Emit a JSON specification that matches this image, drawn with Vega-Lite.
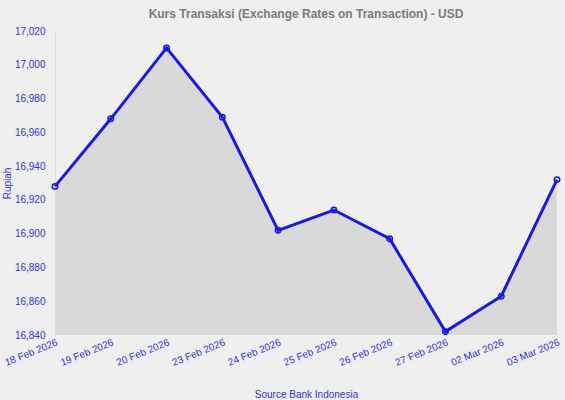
{
  "$schema": "https://vega.github.io/schema/vega-lite/v6.json",
  "width": 502,
  "height": 304,
  "autosize": {"type": "none"},
  "padding": {"left": 55, "top": 31, "right": 8, "bottom": 65},
  "background": "#efefef",
  "title": {
    "text": "Kurs Transaksi (Exchange Rates on Transaction) - USD",
    "font": "Liberation Sans",
    "fontSize": 12,
    "fontWeight": "bold",
    "color": "#7a7a7a",
    "anchor": "middle",
    "offset": 5
  },
  "config": {
    "view": {"stroke": null},
    "axis": {"labelFont": "Liberation Sans", "titleFont": "Liberation Sans"}
  },
  "data": {
    "values": [
      {"date": "18 Feb 2026", "rate": 16928},
      {"date": "19 Feb 2026", "rate": 16968},
      {"date": "20 Feb 2026", "rate": 17010},
      {"date": "23 Feb 2026", "rate": 16969},
      {"date": "24 Feb 2026", "rate": 16902},
      {"date": "25 Feb 2026", "rate": 16914},
      {"date": "26 Feb 2026", "rate": 16897},
      {"date": "27 Feb 2026", "rate": 16842},
      {"date": "02 Mar 2026", "rate": 16863},
      {"date": "03 Mar 2026", "rate": 16932}
    ]
  },
  "encoding": {
    "x": {
      "field": "date",
      "type": "ordinal",
      "sort": null,
      "scale": {"type": "point", "padding": 0},
      "axis": {
        "title": "Source Bank Indonesia",
        "titleColor": "#3333cc",
        "titleFontSize": 10,
        "titleFontWeight": "normal",
        "titlePadding": 22,
        "labelAngle": -22,
        "labelAlign": "right",
        "labelBaseline": "top",
        "labelColor": "#3333cc",
        "labelFontSize": 10,
        "labelPadding": 2,
        "labelOverlap": false,
        "ticks": false,
        "domain": false,
        "grid": false
      }
    },
    "y": {
      "field": "rate",
      "type": "quantitative",
      "scale": {"domain": [16840, 17020], "nice": false, "zero": false},
      "axis": {
        "title": "Rupiah",
        "titleColor": "#3333cc",
        "titleFontSize": 10,
        "titleFontWeight": "normal",
        "titleX": -43,
        "labelColor": "#3333cc",
        "labelFontSize": 10,
        "labelPadding": 10,
        "values": [16840, 16860, 16880, 16900, 16920, 16940, 16960, 16980, 17000, 17020],
        "format": ",d",
        "ticks": false,
        "grid": false,
        "domainColor": "#dddddd",
        "domainWidth": 1
      }
    }
  },
  "layer": [
    {
      "mark": {"type": "area", "color": "#d9d9d9", "opacity": 1},
      "encoding": {"y2": {"datum": 16840}}
    },
    {
      "mark": {"type": "line", "color": "#1a1add", "strokeWidth": 3}
    },
    {
      "mark": {"type": "point", "filled": false, "color": "#1a1add", "size": 30, "strokeWidth": 1.5, "opacity": 1}
    }
  ]
}
